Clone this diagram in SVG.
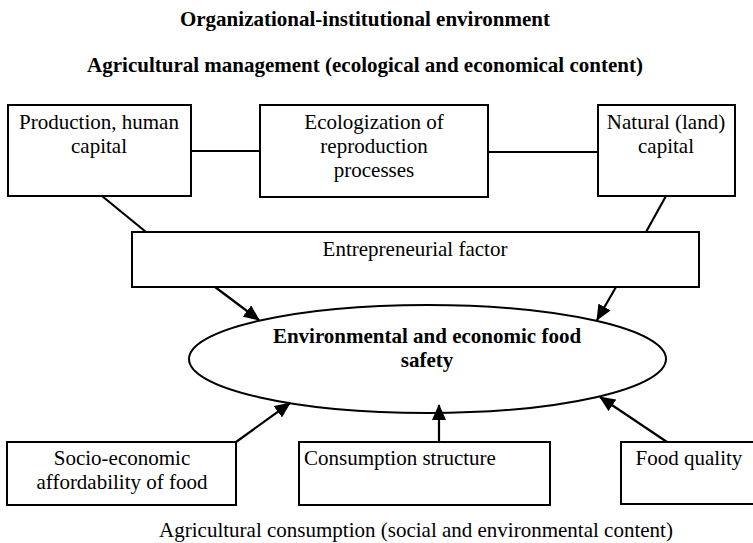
<svg xmlns="http://www.w3.org/2000/svg" width="753" height="543" viewBox="0 0 753 543">
<defs>
<style>
.box{fill:#fff;stroke:#000;stroke-width:2}
.t{font-family:"Liberation Serif","Times New Roman",serif;font-size:21px;fill:#000;text-anchor:middle}
.b{font-weight:bold}
.ln{stroke:#000;stroke-width:2.2;fill:none}
</style>
<marker id="ah" markerWidth="16" markerHeight="14" refX="15" refY="7" orient="auto" markerUnits="userSpaceOnUse">
<path d="M0,0 L16,7 L0,14 Z" fill="#000"/>
</marker>
</defs>
<rect width="753" height="543" fill="#fff"/>
<g id="titles">
<text class="t b" x="365" y="26">Organizational-institutional environment</text>
<text class="t b" x="365" y="72">Agricultural management (ecological and economical content)</text>
<text class="t" x="416" y="537">Agricultural consumption (social and environmental content)</text>
</g>
<g id="connectors">
<line class="ln" x1="191" y1="151" x2="260" y2="151"/>
<line class="ln" x1="488" y1="152" x2="598" y2="152"/>
<line class="ln" x1="102" y1="196" x2="146" y2="232"/>
<line class="ln" x1="666" y1="196" x2="646" y2="232"/>
<line class="ln" x1="215" y1="287" x2="259" y2="320" marker-end="url(#ah)"/>
<line class="ln" x1="616" y1="287" x2="597" y2="320" marker-end="url(#ah)"/>
<line class="ln" x1="236" y1="442" x2="290" y2="403" marker-end="url(#ah)"/>
<line class="ln" x1="439" y1="442" x2="439" y2="405" marker-end="url(#ah)"/>
<line class="ln" x1="667" y1="442" x2="600" y2="397" marker-end="url(#ah)"/>
</g>
<g id="production">
<rect class="box" x="8" y="105" width="183" height="91"/>
<text class="t" x="99" y="129">Production, human</text>
<text class="t" x="99" y="153">capital</text>
</g>
<g id="ecologization">
<rect class="box" x="260" y="105" width="228" height="92"/>
<text class="t" x="374" y="129">Ecologization of</text>
<text class="t" x="374" y="153">reproduction</text>
<text class="t" x="374" y="177">processes</text>
</g>
<g id="natural">
<rect class="box" x="598" y="105" width="137" height="91"/>
<text class="t" x="666" y="129">Natural (land)</text>
<text class="t" x="666" y="153">capital</text>
</g>
<g id="entrepreneurial">
<rect class="box" x="132" y="232" width="567" height="55"/>
<text class="t" x="415" y="256">Entrepreneurial factor</text>
</g>
<g id="safety">
<ellipse cx="427.5" cy="359" rx="238.5" ry="54" fill="none" stroke="#000" stroke-width="2"/>
<text class="t b" x="427" y="343">Environmental and economic food</text>
<text class="t b" x="427" y="367">safety</text>
</g>
<g id="socio">
<rect class="box" x="7" y="442" width="229" height="63"/>
<text class="t" x="122" y="465">Socio-economic</text>
<text class="t" x="122" y="489">affordability of food</text>
</g>
<g id="consumption">
<rect class="box" x="299" y="442" width="251" height="63"/>
<text class="t" x="304" y="465" style="text-anchor:start">Consumption structure</text>
</g>
<g id="quality">
<rect class="box" x="621" y="442" width="140" height="62"/>
<text class="t" x="689" y="465">Food quality</text>
</g>
</svg>
